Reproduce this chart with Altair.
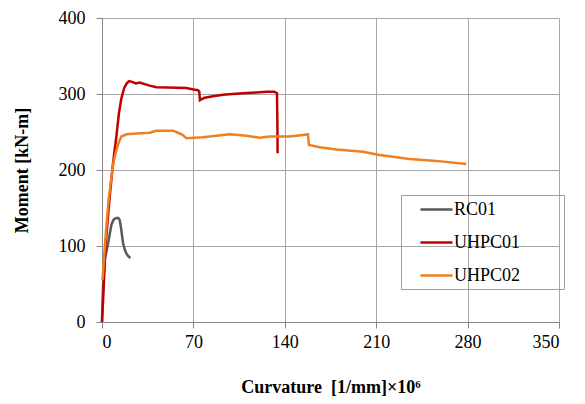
import altair as alt
import pandas as pd

rc01_c = [0, 0.8, 2.1, 4.6, 7.2, 9, 11, 12.5, 13.6, 14.8, 16.1, 17.5, 18.7, 20, 21.7]
rc01_m = [0, 46, 82, 103, 128, 135, 137, 137, 134, 121, 104, 95, 90, 87, 84]

u1_c = [0, 1, 2.8, 5.9, 8.5, 11, 13, 14.8, 17, 19, 20.7, 23, 26, 28.9, 32.7, 36.5, 41.6, 50,
        64.6, 70, 73.5, 74.5, 75, 76, 78.6, 85, 92.7, 100, 108, 118, 125.9, 132, 134, 134.3, 134.5]
u1_m = [0, 35, 103, 165, 210, 244, 275, 294, 308, 314, 317, 316, 314, 315, 313, 311, 309, 308.5,
        308, 306, 305, 303, 292, 293, 295, 297, 299, 300, 301, 302, 303, 303, 301, 265, 222]

u2_c = [0.3, 0.8, 2, 3.3, 5, 7.2, 9, 11, 13, 14.8, 18.7, 26.3, 36.5, 41.6, 54.4, 58.2, 62, 64.6,
        77.3, 97.8, 110.6, 120.8, 128.4, 143.7, 153.9, 157.7, 158.5, 166.7, 179.5, 199.8, 212.6,
        235.6, 256, 279]
u2_m = [55, 64, 95, 125, 160, 191, 212, 226, 237, 244, 247, 248, 249, 251.7, 251.7, 249, 246, 241.7,
        243, 247, 245, 242.5, 244, 244, 246, 247, 233, 230, 227, 224, 219.7, 214.5, 212, 208]

series = ["RC01", "UHPC01", "UHPC02"]
colors = ["#595959", "#C00000", "#F07F1E"]
x_ticks = [0, 70, 140, 210, 280, 350]
y_ticks = [0, 100, 200, 300, 400]

rows = []
for name, cs, ms in zip(series, [rc01_c, u1_c, u2_c], [rc01_m, u1_m, u2_m]):
    for i, (c, m) in enumerate(zip(cs, ms)):
        rows.append({"series": name, "c": c, "m": m, "i": i})
df = pd.DataFrame(rows)

FONT = "Liberation Serif"

chart = alt.Chart(df).mark_line(strokeWidth=2.5).encode(
    x=alt.X("c:Q", scale=alt.Scale(domain=[0, 350], nice=False),
            axis=alt.Axis(values=x_ticks, title="Curvature\u00a0 [1/mm]×10⁶",
                          titlePadding=27, labelPadding=5)),
    y=alt.Y("m:Q", scale=alt.Scale(domain=[0, 400], nice=False),
            axis=alt.Axis(values=y_ticks, title="Moment [kN-m]", titlePadding=27,
                          labelPadding=11)),
    color=alt.Color("series:N", scale=alt.Scale(domain=series, range=colors),
                    legend=alt.Legend(title=None, orient="none", legendX=299, legendY=177,
                                      symbolType="M-1.78,0H1.78", symbolSize=324,
                                      symbolStrokeWidth=2.5, symbolOffset=21,
                                      strokeColor="#A0A0A0", padding=4, rowPadding=13,
                                      labelFont=FONT, labelFontSize=18, labelColor="#000000",
                                      labelOffset=7,
                                      labelExpr="datum.label + '\u2800\u2800\u2800'")),
    order="i:Q",
).properties(
    width=457, height=304,
    autosize=alt.AutoSizeParams(type="none"),
    padding={"left": 94, "top": 10, "right": 18, "bottom": 78},
).configure_view(stroke=None).configure_axis(
    labelFont=FONT, labelFontSize=18, labelColor="#000000",
    titleFont=FONT, titleFontSize=18, titleFontWeight="bold", titleColor="#000000",
    gridColor="#A6A6A6", gridWidth=1, domainColor="#868686", tickColor="#868686",
    tickSize=6,
)

chart.save("out.html", embed_options={"renderer": "svg", "actions": False})
